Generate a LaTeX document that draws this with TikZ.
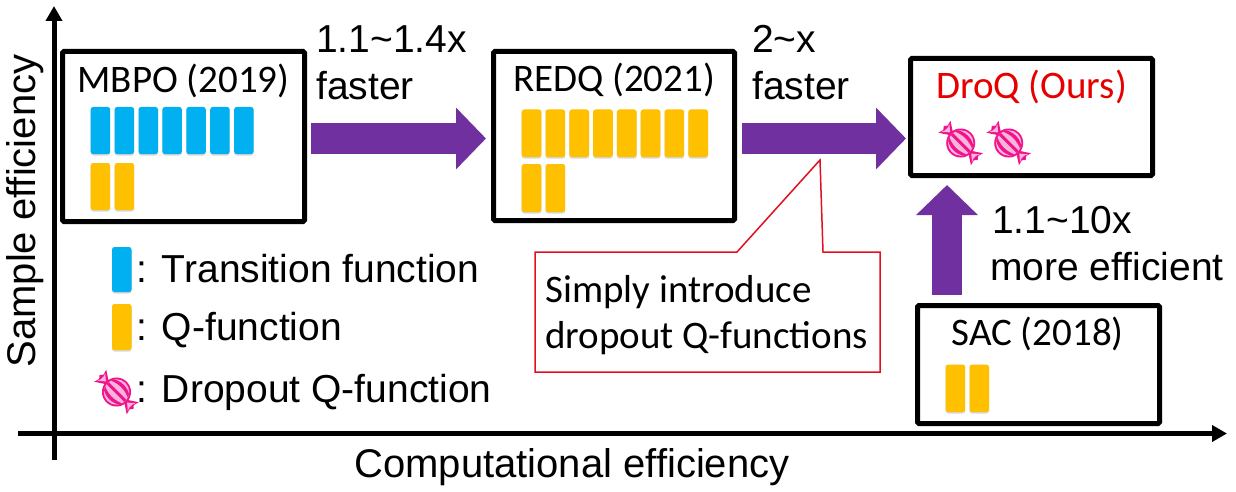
\documentclass[tikz,border=0pt]{standalone}
\usepackage{fontspec}
\setmainfont{Liberation Sans}
\newfontfamily\calfont{Carlito}
\usetikzlibrary{arrows.meta,shadows}
\definecolor{pblue}{HTML}{00B0F0}
\definecolor{porange}{HTML}{FFC000}
\definecolor{ppurple}{HTML}{7030A0}
\definecolor{cdeep}{HTML}{F0148C}
\definecolor{clight}{HTML}{FBB4DC}
\definecolor{tred}{HTML}{E60000}
\definecolor{cred}{HTML}{E01020}
\tikzset{
 x=1pt,y=-1pt,
 algobox/.style 2 args={draw=black,line width=5pt,rounded corners=1.5pt,inner sep=0pt,minimum width=#1,minimum height=#2},
 fatarrow/.style={line width=30pt,draw=ppurple,-{Triangle[length=30pt,width=60pt]}},
 axisline/.style={line width=5pt,draw=black,-{Triangle[length=15pt,width=16pt]}},
 pill/.style={rounded corners=2.5pt,draw=none,drop shadow={shadow xshift=0pt,shadow yshift=-1.5pt,fill=black!25,opacity=.6}},
 big/.style={font=\fontsize{39}{47}\selectfont,inner sep=0pt,anchor=base west},
 axlab/.style={font=\fontsize{40}{47}\selectfont,inner sep=0pt,anchor=base},
 lbl/.style={font=\calfont\fontsize{39}{47}\selectfont,inner sep=0pt,anchor=base},
 calltext/.style={font=\calfont\fontsize{39}{47}\selectfont,inner sep=0pt,anchor=base west},
 pics/candy/.style={code={
   \begin{scope}[rotate=-45]
    \fill[cdeep] (-10,0) -- (-23,-8.5) -- (-21.5,-3) -- (-24,0) -- (-21.5,3) -- (-23,8.5) -- cycle;
    \fill[clight] (-15,0) -- (-21.5,-5.5) -- (-20,-2) -- (-20,2) -- (-21.5,5.5) -- cycle;
    \fill[cdeep] (10,0) -- (23,-8.5) -- (21.5,-3) -- (24,0) -- (21.5,3) -- (23,8.5) -- cycle;
    \fill[clight] (15,0) -- (21.5,-5.5) -- (20,-2) -- (20,2) -- (21.5,5.5) -- cycle;
    \fill[cdeep] (0,0) circle (14.5);
    \fill[clight] (0,0) circle (12.7);
    \begin{scope}
     \clip (0,0) circle (12.7);
     \fill[cdeep] (-14,-3) .. controls (-5,-8) and (5,-8) .. (14,-3) -- (14,-5) .. controls (5,-12) and (-5,-12) .. (-14,-5) -- cycle;
     \fill[cdeep] (-14,-1.5) .. controls (-5,-1.5) and (5,-1.5) .. (14,-1.5) -- (14,1.5) .. controls (5,1.5) and (-5,1.5) .. (-14,1.5) -- cycle;
     \fill[cdeep] (-14,3) .. controls (-5,8) and (5,8) .. (14,3) -- (14,5) .. controls (5,12) and (-5,12) .. (-14,5) -- cycle;
    \end{scope}
   \end{scope}
 }}
}
\begin{document}
\begin{tikzpicture}
\useasboundingbox (0,0) rectangle (1236,492);
\fill[white] (0,0) rectangle (1236,492);
% axes
\coordinate (xs) at (18,433.5); \coordinate (xe) at (1227,433.5);
\coordinate (ys) at (54,460); \coordinate (ye) at (54,6);
\draw[axisline] (xs) -- (xe);
\draw[axisline] (ys) -- (ye);
\node[axlab,rotate=90] (ylab) at (35,211) {Sample efficiency};
\node[axlab] (xlab) at (572,477) {Computational efficiency};
% boxes
\node[algobox={242pt}{170pt}] (mbpo) at (183.5,136.5) {};
\node[algobox={241pt}{169pt}] (redq) at (614,136) {};
\node[algobox={242pt}{117pt}] (droq) at (1031.5,117) {};
\node[algobox={242pt}{118pt}] (sac) at (1038.5,364.5) {};
\node[lbl] (mbpol) at (183.5,93) {MBPO (2019)};
\node[lbl] (redql) at (614,92) {REDQ (2021)};
\node[lbl,text=tred] (droql) at (1031.5,99) {DroQ (Ours)};
\node[lbl] (sacl) at (1037.5,345) {SAC (2018)};
% pills
\foreach \i in {0,...,6} \fill[pblue,pill] ({90.7+\i*23.9},107) rectangle ++(19.5,47);
\foreach \i in {0,1} \fill[porange,pill] ({90.7+\i*24},163) rectangle ++(19.5,47);
\foreach \i in {0,...,7} \fill[porange,pill] ({521.7+\i*23.8},109.5) rectangle ++(19.7,47.5);
\foreach \i in {0,1} \fill[porange,pill] ({521.7+\i*23.8},164) rectangle ++(19.7,48);
\foreach \i in {0,1} \fill[porange,pill] ({945.7+\i*23.8},364.5) rectangle ++(19.5,47.5);
\fill[pblue,pill] (112,247) rectangle ++(19.5,45);
\fill[porange,pill] (112,304) rectangle ++(19.5,46);
% candies
\pic at (960.7,143) {candy};
\pic at (1008.7,143) {candy};
\pic at (116.5,392) {candy};
% fat arrows
\coordinate (upx) at (947,0);
\coordinate (arrowy) at (0,138.5);
\draw[fatarrow,shorten <=4pt,shorten >=5pt] (mbpo.east |- arrowy) -- (redq.west |- arrowy);
\draw[fatarrow,shorten <=5pt,shorten >=2pt] (redq.east |- arrowy) -- (droq.west |- arrowy);
\draw[fatarrow,shorten <=8pt,shorten >=7pt] (sac.north -| upx) -- (droq.south -| upx);
% arrow labels
\node[big] (l1a) at (316,53) {1.1\char"007E 1.4x};
\node[big] (l1b) at (316,100) {faster};
\node[big] (l2a) at (752,53) {2\char"007E x};
\node[big] (l2b) at (752,100) {faster};
\node[big] (l3a) at (992,233) {1.1\char"007E 10x};
\node[big] (l3b) at (990,280) {more efficient};
% legend text
\node[big] (t1) at (136.5,282) {: Transition function};
\node[big] (t2) at (136.5,340) {: Q-function};
\node[big] (t3) at (136.5,402) {: Dropout Q-function};
% callout
\coordinate (tip) at (820,160);
\draw[draw=cred,line width=1.5pt,line join=miter] (535,252) -- (737,252) -- (tip) -- (823,252) -- (880,252) -- (880,372) -- (535,372) -- cycle;
\node[calltext] (call1) at (545,302) {Simply introduce};
\node[calltext] (call2) at (545,348) {dropout Q-functions};
\end{tikzpicture}
\end{document}
